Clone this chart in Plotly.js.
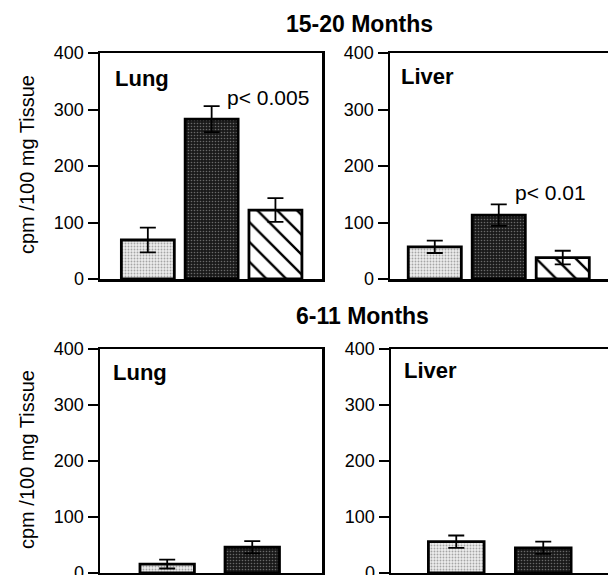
<!DOCTYPE html>
<html>
<head>
<meta charset="utf-8">
<script src="https://cdn.plot.ly/plotly-3.0.1.min.js"></script>
<style>
html, body { margin: 0; padding: 0; overflow: hidden; background: #fff; }
#chart { width: 612px; height: 578px; }
</style>
</head>
<body>
<div id="chart"></div>
<script>
// Data
const groups = ["A", "B", "C"];
const lung1520Means = [69, 283, 122];
const lung1520Err = [22, 23, 21];
const liver1520Means = [57, 113, 38];
const liver1520Err = [11, 19, 12];
const groupsYoung = ["A", "B"];
const lung611Means = [16, 46];
const lung611Err = [8, 11];
const liver611Means = [56, 45];
const liver611Err = [11, 11];
const yTicks = [0, 100, 200, 300, 400];

const W = 612, H = 578;
const px = x => x / W;
const py = y => 1 - y / H;
const FONT = "Liberation Sans, Arial, Helvetica, sans-serif";

const styles = [
  { color: "#ececec", pattern: { shape: ".", fillmode: "overlay", fgcolor: "#5e5e5e", size: 3, solidity: 0.3 } },
  { color: "#1a1a1a", pattern: { shape: ".", fillmode: "overlay", fgcolor: "#b8b8b8", size: 3, solidity: 0.22 } },
  { color: "#ffffff", pattern: { shape: "\\", fillmode: "overlay", fgcolor: "#000000", fgopacity: 1, size: 14, solidity: 0.17 } }
];

function panelTraces(cats, ys, errs, xa, ya, width) {
  return cats.map((c, i) => ({
    type: "bar",
    x: [i],
    y: [ys[i]],
    xaxis: xa, yaxis: ya,
    width: width,
    marker: {
      color: styles[i].color,
      line: { color: "#000", width: 2.8 },
      pattern: styles[i].pattern
    },
    error_y: { type: "data", array: [errs[i]], visible: true, color: "#000", thickness: 1.8, width: 8 },
    hoverinfo: "skip",
    showlegend: false
  }));
}

const data = [].concat(
  panelTraces(groups, lung1520Means, lung1520Err, "x", "y", 0.83),
  panelTraces(groups, liver1520Means, liver1520Err, "x2", "y2", 0.83),
  panelTraces(groupsYoung, lung611Means, lung611Err, "x3", "y3", 0.64),
  panelTraces(groupsYoung, liver611Means, liver611Err, "x4", "y4", 0.64)
);

function xax(d, r, anchor) {
  return {
    domain: d, range: r, anchor: anchor,
    showline: true, linecolor: "#000", linewidth: 2.5, mirror: true,
    showgrid: false, zeroline: false, showticklabels: false, ticks: "",
    fixedrange: true
  };
}
function yax(d, anchor) {
  return {
    domain: d, range: [0, 400], anchor: anchor,
    tickvals: yTicks, ticktext: yTicks.map(String),
    showline: true, linecolor: "#000", linewidth: 2.5, mirror: true,
    showgrid: false, zeroline: false,
    ticks: "outside", ticklen: 10, tickwidth: 2, tickcolor: "#000",
    tickfont: { family: FONT, size: 18, color: "#000" },
    ticklabeloverflow: "allow",
    fixedrange: true
  };
}

const topD = [py(279), py(53)];
const botD = [py(573), py(349)];

function ann(text, x, y, size, opts) {
  return Object.assign({
    text: text, x: px(x), y: py(y), xref: "paper", yref: "paper",
    xanchor: "center", yanchor: "middle", showarrow: false,
    font: { size: size, family: FONT, color: "#000" }
  }, opts || {});
}

const layout = {
  width: W, height: H,
  margin: { l: 0, r: 0, t: 0, b: 0 },
  paper_bgcolor: "#fff", plot_bgcolor: "#fff",
  barmode: "overlay",
  font: { family: FONT, color: "#000" },
  xaxis: xax([px(100), px(322)], [-0.75, 2.73], "y"),
  yaxis: yax(topD, "x"),
  xaxis2: xax([px(390), px(612)], [-0.70, 2.77], "y2"),
  yaxis2: yax(topD, "x2"),
  xaxis3: xax([px(100), px(322)], [-0.79, 1.82], "y3"),
  yaxis3: yax(botD, "x3"),
  xaxis4: xax([px(391), px(612)], [-0.75, 1.79], "y4"),
  yaxis4: yax(botD, "x4"),
  annotations: [
    ann("<b>15-20 Months</b>", 359, 24, 23),
    ann("<b>6-11 Months</b>", 362, 316, 23),
    ann("cpm /100 mg Tissue", 27, 165, 20, { textangle: -90 }),
    ann("cpm /100 mg Tissue", 27, 460, 20, { textangle: -90 }),
    ann("<b>Lung</b>", 113, 78, 22, { xanchor: "left" }),
    ann("<b>Liver</b>", 399, 77, 22, { xanchor: "left" }),
    ann("<b>Lung</b>", 111, 372, 22, { xanchor: "left" }),
    ann("<b>Liver</b>", 402, 370, 22, { xanchor: "left" }),
    ann("p< 0.005", 225, 97, 21, { xanchor: "left" }),
    ann("p< 0.01", 513, 192, 21, { xanchor: "left" })
  ]
};

Plotly.newPlot("chart", data, layout, { staticPlot: true, displayModeBar: false });
</script>
</body>
</html>
